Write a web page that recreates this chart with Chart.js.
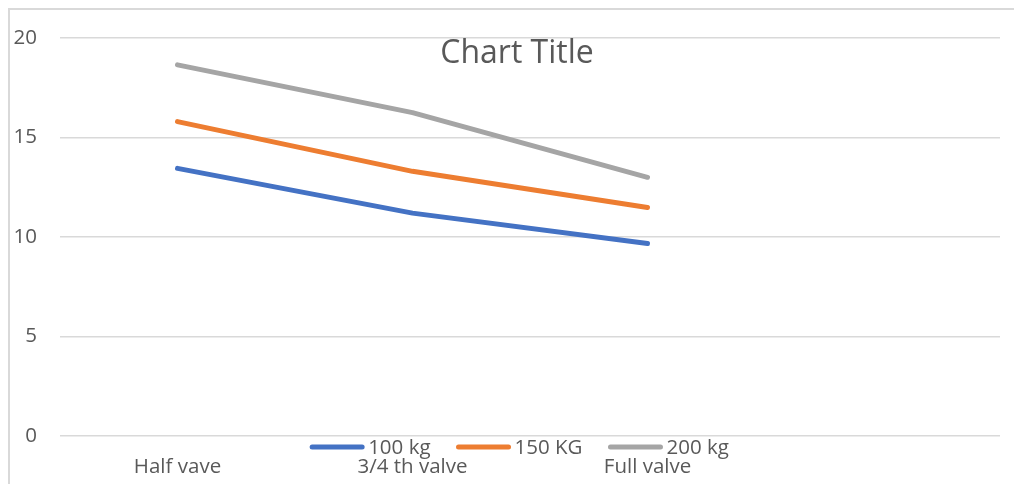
<!DOCTYPE html>
<html lang="en">
<head>
    <meta charset="UTF-8">
    <title>Chart Title</title>
    <style>
        body {
            margin: 0;
            background: #fff;
            overflow: hidden;
        }

        .frame {
            position: absolute;
            left: 8px;
            top: 8px;
            width: 1100px;
            height: 600px;
            border: 2px solid #d9d9d9;
        }

        .wrap {
            position: absolute;
            left: 0;
            top: 0;
            width: 1014px;
            height: 484px;
        }
    </style>
</head>
<body>
    <div class="frame"></div>
    <div class="wrap">
        <canvas id="chart"></canvas>
    </div>

    <script src="https://cdn.jsdelivr.net/npm/chart.js"></script>
    <script>
        const categories = ['Half vave', '3/4 th valve', 'Full valve', ''];
        const seriesNames = ['100 kg', '150 KG', '200 kg'];
        const kg100 = [13.45, 11.2, 9.67];
        const kg150 = [15.8, 13.3, 11.48];
        const kg200 = [18.65, 16.25, 13.0];
        const yTicks = [0, 5, 10, 15, 20];

        const colors = ['#4472C4', '#ED7D31', '#A5A5A5'];
        const textColor = '#595959';
        const fontFamily = '"Open Sans", sans-serif';

        // title and legend sit on top of the plot, like the original
        const overlay = {
            id: 'overlay',
            afterDraw(chart) {
                const ctx = chart.ctx;
                ctx.save();
                ctx.fillStyle = textColor;
                ctx.textBaseline = 'middle';
                ctx.textAlign = 'center';
                ctx.font = '32px ' + fontFamily;
                ctx.fillText('Chart Title', 517, 54);

                ctx.font = '20.5px ' + fontFamily;
                ctx.textAlign = 'left';
                const swatch = 56, gapText = 3, gapItem = 25;
                const widths = chart.data.datasets.map(d => ctx.measureText(d.label).width);
                let total = 0;
                widths.forEach((w, i) => {
                    total += swatch + gapText + w + (i < widths.length - 1 ? gapItem : 0);
                });
                let x = 519 - total / 2;
                const y = 447;
                chart.data.datasets.forEach((d, i) => {
                    ctx.strokeStyle = d.borderColor;
                    ctx.lineWidth = 5;
                    ctx.lineCap = 'round';
                    ctx.beginPath();
                    ctx.moveTo(x + 3, y);
                    ctx.lineTo(x + swatch - 3, y);
                    ctx.stroke();
                    ctx.fillText(d.label, x + swatch + gapText, y + 1);
                    x += swatch + gapText + widths[i] + gapItem;
                });
                ctx.restore();
            }
        };

        new Chart(document.getElementById('chart'), {
            type: 'line',
            data: {
                labels: categories,
                datasets: [kg100, kg150, kg200].map((vals, i) => ({
                    label: seriesNames[i],
                    data: vals,
                    borderColor: colors[i],
                    backgroundColor: colors[i],
                    borderWidth: 5,
                    borderCapStyle: 'round',
                    borderJoinStyle: 'round',
                    pointRadius: 0,
                    tension: 0
                }))
            },
            options: {
                responsive: true,
                maintainAspectRatio: false,
                animation: false,
                layout: {
                    padding: { left: 0, right: 14, top: 38, bottom: 0 }
                },
                plugins: {
                    legend: { display: false },
                    title: { display: false },
                    tooltip: { enabled: false }
                },
                scales: {
                    x: {
                        offset: true,
                        grid: { display: false, drawTicks: false },
                        border: { display: false },
                        ticks: {
                            color: textColor,
                            font: { family: fontFamily, size: 20.5 },
                            padding: 19,
                            maxRotation: 0,
                            autoSkip: false
                        },
                        afterFit(scale) { scale.height = 48; }
                    },
                    y: {
                        min: 0,
                        max: 20,
                        afterBuildTicks(scale) {
                            scale.ticks = yTicks.map(v => ({ value: v }));
                        },
                        grid: { color: '#d9d9d9', lineWidth: 1.5, drawTicks: false },
                        border: { display: false },
                        ticks: {
                            color: textColor,
                            font: { family: fontFamily, size: 20.5 },
                            padding: 23
                        },
                        afterFit(scale) { scale.width = 60; }
                    }
                }
            },
            plugins: [overlay]
        });
    </script>
</body>
</html>
